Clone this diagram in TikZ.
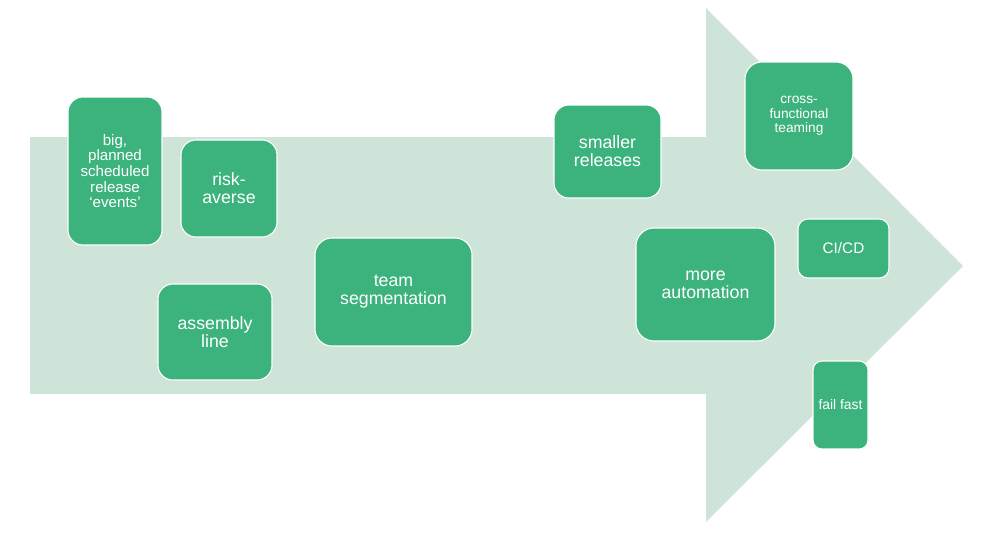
\documentclass[tikz,border=0pt]{standalone}
\usepackage{fontspec}
\setmainfont{Liberation Sans}
\usetikzlibrary{calc}
\definecolor{arrowfill}{HTML}{CFE4D9}
\definecolor{boxfill}{HTML}{3CB37C}
\tikzset{box/.style={draw=white,line width=0.6pt,fill=boxfill,text=white,align=center,inner sep=0pt},
         big/.style={font=\fontsize{10.1}{10.2}\selectfont},
         small/.style={font=\fontsize{8.6}{8.9}\selectfont}}

\begin{document}
\begin{tikzpicture}[line cap=round,line join=round,x=0.02cm,y=-0.02cm]
                    \useasboundingbox (0,0) rectangle (999,539);

                    % big arrow in the back
                    \fill[color=arrowfill] (30,137) -- (706,137) -- (706,8) -- (963,266) -- (706,522) -- (706,394) -- (30,394) -- cycle;

                    \node[box,small,minimum width=94*0.02cm,minimum height=148*0.02cm,rounded corners=15*0.02cm] (bigrel) at (115,171) {big,\\planned\\scheduled\\release\\`events'};
                    \node[box,big,minimum width=96*0.02cm,minimum height=97*0.02cm,rounded corners=15*0.02cm] (risk) at (229,188.5) {risk-\\averse};
                    \node[box,big,minimum width=114*0.02cm,minimum height=96*0.02cm,rounded corners=15*0.02cm] (assembly) at (215,332) {assembly\\line};
                    \node[box,big,minimum width=157*0.02cm,minimum height=108*0.02cm,rounded corners=17*0.02cm] (teamseg) at (393.5,292) {team\\segmentation};

                    \node[box,big,minimum width=107*0.02cm,minimum height=93*0.02cm,rounded corners=15*0.02cm] (smaller) at (607.5,151.5) {smaller\\releases};
                    \node[box,big,minimum width=139*0.02cm,minimum height=113*0.02cm,rounded corners=18*0.02cm] (automation) at (705.5,284.5) {more\\automation};
                    \node[box,font=\fontsize{7.8}{8.2}\selectfont,minimum width=108*0.02cm,minimum height=108*0.02cm,rounded corners=17*0.02cm] (crossfunc) at (799,116) {cross-\\functional\\teaming};
                    \node[box,font=\fontsize{8.7}{9.5}\selectfont,minimum width=91*0.02cm,minimum height=59*0.02cm,rounded corners=10*0.02cm] (cicd) at (843.5,248.5) {CI/CD};
                    \node[box,font=\fontsize{7.9}{8.2}\selectfont,minimum width=55*0.02cm,minimum height=88*0.02cm,rounded corners=9*0.02cm] (failfast) at (840.5,405) {fail fast};
                    \end{tikzpicture}
\end{document}
